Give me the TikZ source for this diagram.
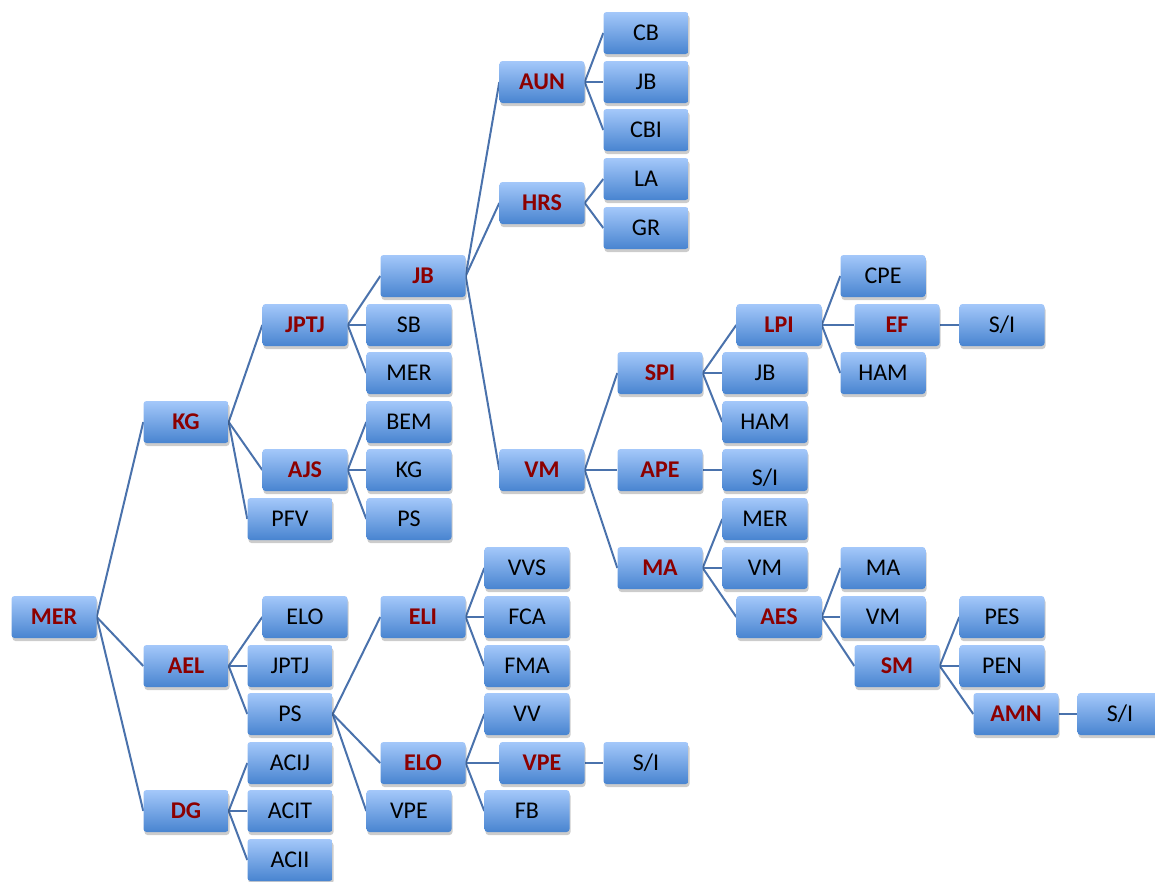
\documentclass[tikz,border=0pt]{standalone}
\usepackage{fontspec}
\setmainfont{Carlito}
\usetikzlibrary{shadows,backgrounds}
\definecolor{boxtop}{RGB}{164,200,250}
\definecolor{boxbot}{RGB}{72,132,208}
\definecolor{linecol}{RGB}{74,114,172}
\definecolor{darkred}{RGB}{140,0,0}
\tikzset{
  box/.style={rectangle, rounded corners=3pt, minimum width=85pt, minimum height=42pt,
    top color=boxtop, bottom color=boxbot, draw=none,
    drop shadow={shadow xshift=1pt, shadow yshift=-3pt, opacity=0.2, fill=black},
    font=\fontsize{24}{28}\selectfont, text=black, inner sep=0pt},
  rbox/.style={box, font=\fontsize{24}{28}\selectfont\bfseries, text=darkred},
  conn/.style={draw=linecol, line width=2pt}
}
\begin{document}
\begin{tikzpicture}[x=1pt,y=-1pt]
\useasboundingbox (0,0) rectangle (1155,881);
% column 1-2
\node[rbox] (mer) at (54,617) {MER};
\node[rbox] (kg) at (186,422) {KG};
\node[rbox] (ael) at (186,666) {AEL};
\node[rbox] (dg) at (186,811) {DG};
% KG children
\node[rbox] (jptj) at (305,325) {JPTJ};
\node[rbox] (ajs) at (305,470) {AJS};
\node[box] (pfv) at (290,519) {PFV};
% AEL children
\node[box] (elo) at (305,617) {ELO};
\node[box] (jptjb) at (290,666) {JPTJ};
\node[box] (ps) at (290,714) {PS};
% DG children
\node[box] (acij) at (290,763) {ACIJ};
\node[box] (acit) at (290,811) {ACIT};
\node[box] (acii) at (290,860) {ACII};
% JPTJ children
\node[rbox] (jb) at (423,276) {JB};
\node[box] (sb) at (409,325) {SB};
\node[box] (merb) at (409,373) {MER};
% AJS children
\node[box] (bem) at (409,422) {BEM};
\node[box] (kgb) at (409,470) {KG};
\node[box] (psb) at (409,519) {PS};
% PS children
\node[rbox] (eli) at (423,617) {ELI};
\node[rbox] (elob) at (423,763) {ELO};
\node[box] (vpe) at (409,811) {VPE};
% ELI children
\node[box] (vvs) at (527,568) {VVS};
\node[box] (fca) at (527,617) {FCA};
\node[box] (fma) at (527,666) {FMA};
% ELO children
\node[box] (vv) at (527,714) {VV};
\node[rbox] (vpeb) at (542,763) {VPE};
\node[box] (fb) at (527,811) {FB};
\node[box] (sid) at (646,763) {S/I};
% JB children
\node[rbox] (aun) at (542,82) {AUN};
\node[rbox] (hrs) at (542,203) {HRS};
\node[rbox] (vm) at (542,470) {VM};
% AUN, HRS children
\node[box] (cb) at (646,33) {CB};
\node[box] (jbb) at (646,82) {JB};
\node[box] (cbi) at (646,130) {CBI};
\node[box] (la) at (646,179) {LA};
\node[box] (gr) at (646,228) {GR};
% VM children
\node[rbox] (spi) at (660,373) {SPI};
\node[rbox] (ape) at (660,470) {APE};
\node[rbox] (ma) at (660,568) {MA};
% SPI children
\node[rbox] (lpi) at (779,325) {LPI};
\node[box] (jbc) at (765,373) {JB};
\node[box] (ham) at (765,422) {HAM};
% APE child
\node[box] (sib) at (765,470) {\smash{\raisebox{-15pt}{S/I}}};
% MA children
\node[box] (merc) at (765,519) {MER};
\node[box] (vmb) at (765,568) {VM};
\node[rbox] (aes) at (779,617) {AES};
% LPI children
\node[box] (cpe) at (883,276) {CPE};
\node[rbox] (ef) at (897,325) {EF};
\node[box] (hamb) at (883,373) {HAM};
\node[box] (sia) at (1002,325) {S/I};
% AES children
\node[box] (mab) at (883,568) {MA};
\node[box] (vmc) at (883,617) {VM};
\node[rbox] (sm) at (897,666) {SM};
% SM children
\node[box] (pes) at (1002,617) {PES};
\node[box] (pen) at (1002,666) {PEN};
\node[rbox] (amn) at (1016,714) {AMN};
\node[box] (sic) at (1120,714) {S/I};

\begin{scope}[on background layer]
\foreach \p/\c in {mer/kg, mer/ael, mer/dg,
  kg/jptj, kg/ajs, kg/pfv,
  jptj/jb, jptj/sb, jptj/merb,
  ajs/bem, ajs/kgb, ajs/psb,
  jb/aun, jb/hrs, jb/vm,
  aun/cb, aun/jbb, aun/cbi,
  hrs/la, hrs/gr,
  vm/spi, vm/ape, vm/ma,
  spi/lpi, spi/jbc, spi/ham,
  lpi/cpe, lpi/ef, lpi/hamb, ef/sia,
  ape/sib,
  ma/merc, ma/vmb, ma/aes,
  aes/mab, aes/vmc, aes/sm,
  sm/pes, sm/pen, sm/amn, amn/sic,
  ael/elo, ael/jptjb, ael/ps,
  ps/eli, ps/elob, ps/vpe,
  eli/vvs, eli/fca, eli/fma,
  elob/vv, elob/vpeb, elob/fb, vpeb/sid,
  dg/acij, dg/acit, dg/acii}
  \draw[conn] (\p.east) -- (\c.west);
\end{scope}
\end{tikzpicture}
\end{document}
